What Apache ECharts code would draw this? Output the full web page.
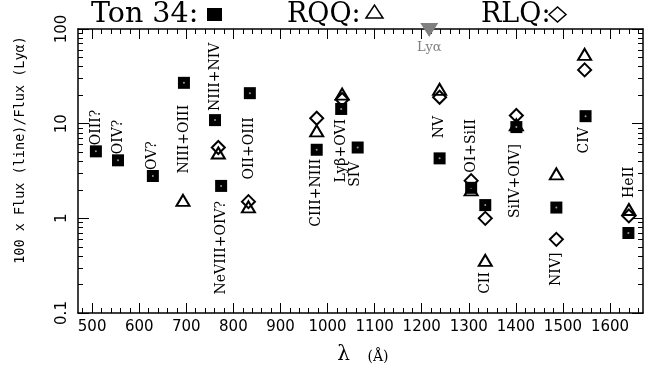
<!DOCTYPE html>
<html>
<head>
<meta charset="utf-8">
<script src="https://cdn.jsdelivr.net/npm/echarts@6/dist/echarts.min.js"></script>
<style>
html, body { margin: 0; padding: 0; background: #fff; }
#chart { width: 649px; height: 370px; }
</style>
</head>
<body>
<div id="chart"></div>
<script>
// emission lines, wavelength in Angstrom
const lineNames = ['OIII?', 'OIV?', 'OV?', 'NIII+OIII', 'NIII+NIV', 'NeVIII+OIV?', 'OII+OIII', 'CIII+NIII',
  'Lyβ+OVI', 'SIV', 'NV', 'OI+SiII', 'CII', 'SiIV+OIV]', 'NIV]', 'CIV', 'HeII']
const lineWave = [508, 555, 629, 695, 761, 774, 835, 977, 1029, 1064, 1238, 1305, 1335, 1401, 1486, 1548, 1639]
// Ton 34 ratios (100 x line / Lya)
const ton34 = [5.1, 4.1, 2.8, 27, 10.9, 2.2, 21, 5.3, 14.3, 5.6, 4.3, 2.1, 1.38, 9.2, 1.3, 12, 0.7]
// RQQ composite
const rqqWave = [693, 768, 832, 977, 1031, 1238, 1305, 1335, 1401, 1486, 1546, 1640]
const rqq = [1.55, 4.9, 1.32, 8.4, 20.5, 23, 2.0, 0.36, 9.7, 2.95, 54, 1.24]
// RLQ composite
const rlqWave = [768, 832, 977, 1031, 1238, 1305, 1335, 1401, 1486, 1546, 1640]
const rlq = [5.6, 1.5, 11.4, 18, 19, 2.5, 1.0, 12.2, 0.6, 37, 1.06]
// Lya marker on the top axis
const lyaWave = 1216
const lyaLevel = 100

// axes
const waveMin = 470
const waveMax = 1670
const xMajor = [500, 600, 700, 800, 900, 1000, 1100, 1200, 1300, 1400, 1500, 1600]
const xMinor = []
for (let v = 480; v <= 1660; v += 20) if (v % 100) xMinor.push(v)
const yMajor = [0.1, 1, 10, 100]
const yMajorLabels = ['0.1', '1', '10', '100']
const yMinor = []
;[0.1, 1, 10].forEach(d => { for (let k = 2; k <= 9; k++) yMinor.push(+(d * k).toPrecision(2)) })

// where each line name sits relative to its Ton 34 square
const labelSide = ['up', 'up', 'up', 'down', 'up', 'down', 'down', 'down', 'down', 'down', 'up', 'up', 'down', 'down', 'down', 'down', 'up']
const labelGap = [6, 6, 6, 22, 9, 15, 24, 9, 10, 14, 20, 15, 67, 17, 45, 11, 35]
const labelDx = [0, 0, -1, 0, 0, 0, 0, 0, 0, -2, 0, 0, 0, -1, 0, -1, 1]

const serif = '"DejaVu Serif"'
const sans = '"DejaVu Sans"'

const pairs = (xs, ys) => xs.map((x, i) => [x, ys[i]])

const axisX = (pos, line, ticks, len, labels) => ({
  type: 'value', gridIndex: 0, position: pos, min: waveMin, max: waveMax,
  axisLine: { show: line, onZero: false, lineStyle: { color: '#000', width: 1.5 } },
  axisTick: { show: true, inside: true, length: len, customValues: ticks, lineStyle: { color: '#000', width: 1 } },
  axisLabel: {
    show: labels, customValues: xMajor, margin: 7, color: '#000', fontFamily: sans, fontSize: 15,
    formatter: v => String(Math.round(v))
  },
  splitLine: { show: false }
})

const axisY = (pos, line, ticks, len, labels) => ({
  type: 'log', logBase: 10, gridIndex: 0, position: pos, min: 0.1, max: 100,
  axisLine: { show: line, onZero: false, lineStyle: { color: '#000', width: 1.5 } },
  axisTick: { show: true, inside: true, length: len, customValues: ticks, lineStyle: { color: '#000', width: 1 } },
  axisLabel: {
    show: labels, customValues: yMajor, rotate: 90, margin: 8, color: '#000', fontFamily: sans, fontSize: 15,
    formatter: v => yMajorLabels[yMajor.findIndex(m => Math.abs(m - v) < m * 1e-6)] || ''
  },
  splitLine: { show: false }
})

const chart = echarts.init(document.getElementById('chart'))

const option = {
  animation: false,
  backgroundColor: '#fff',
  grid: { left: 78, right: 6, top: 29, bottom: 57 },
  xAxis: [
    axisX('bottom', true, xMajor, 10, true),
    axisX('bottom', false, xMinor, 5, false),
    axisX('top', true, xMajor, 10, false),
    axisX('top', false, xMinor, 5, false)
  ],
  yAxis: [
    axisY('left', true, yMajor, 11, true),
    axisY('left', false, yMinor, 5, false),
    axisY('right', true, yMajor, 11, false),
    axisY('right', false, yMinor, 5, false)
  ],
  series: [
    {
      name: 'Ton 34', type: 'scatter', data: pairs(lineWave, ton34),
      symbol: 'rect', symbolSize: 12, itemStyle: { color: '#000', opacity: 1 }
    },
    {
      name: 'dot', type: 'scatter', data: pairs(lineWave, ton34), silent: true,
      symbol: 'circle', symbolSize: 2, itemStyle: { color: '#999', opacity: 1 }
    },
    {
      name: 'RQQ', type: 'scatter', data: pairs(rqqWave, rqq),
      symbol: 'triangle', symbolSize: [13, 11],
      itemStyle: { color: 'rgba(0,0,0,0)', borderColor: '#000', borderWidth: 2, opacity: 1 }
    },
    {
      name: 'RLQ', type: 'scatter', data: pairs(rlqWave, rlq),
      symbol: 'diamond', symbolSize: [13, 13],
      itemStyle: { color: 'rgba(0,0,0,0)', borderColor: '#000', borderWidth: 2, opacity: 1 }
    },
    {
      name: 'Lya', type: 'scatter', data: [[lyaWave, lyaLevel]], clip: false, z: 5,
      symbol: 'triangle', symbolRotate: 180, symbolSize: [18, 14], symbolOffset: [0, 1],
      itemStyle: { color: '#808080', opacity: 1 },
      label: {
        show: true, position: 'bottom', distance: 4, formatter: 'Lyα',
        color: '#808080', fontFamily: serif, fontSize: 13
      }
    }
  ]
}
chart.setOption(option)

// title row, axis names
const titleFont = '27px ' + serif
const head = [
  { type: 'text', x: 91, y: 15, style: { text: 'Ton 34:', font: '28.5px ' + serif, fill: '#000', verticalAlign: 'middle' } },
  { type: 'rect', shape: { x: 207, y: 8, width: 15, height: 13 }, style: { fill: '#000' } },
  { type: 'text', x: 287, y: 15, style: { text: 'RQQ:', font: titleFont, fill: '#000', verticalAlign: 'middle' } },
  { type: 'polygon', shape: { points: [[366, 18], [374.5, 5], [383, 18]] }, style: { fill: 'none', stroke: '#000', lineWidth: 1.5 } },
  { type: 'text', x: 481, y: 15, style: { text: 'RLQ:', font: titleFont, fill: '#000', verticalAlign: 'middle' } },
  { type: 'polygon', shape: { points: [[549, 14.5], [557.5, 7], [566, 14.5], [557.5, 22]] }, style: { fill: 'none', stroke: '#000', lineWidth: 1.5 } },
  { type: 'text', x: 343.5, y: 355, style: { text: 'λ', font: '20px ' + serif, fill: '#000', align: 'center', verticalAlign: 'middle' } },
  { type: 'text', x: 378, y: 357, style: { text: '(Å)', font: '14px ' + serif, fill: '#000', align: 'center', verticalAlign: 'middle' } },
  {
    type: 'text', x: 20, y: 150, rotation: Math.PI / 2,
    style: { text: '100 x Flux (line)/Flux (Lyα)', font: '13.5px "DejaVu Sans Mono"', fill: '#000', align: 'center', verticalAlign: 'middle' }
  }
]

// line names, rotated, next to the Ton 34 squares
const names = lineNames.map((name, i) => {
  const p = chart.convertToPixel({ seriesIndex: 0 }, [lineWave[i], ton34[i]])
  const up = labelSide[i] === 'up'
  return {
    type: 'text', x: p[0] + labelDx[i], y: up ? p[1] - labelGap[i] : p[1] + labelGap[i],
    rotation: Math.PI / 2,
    style: { text: name, font: '14px ' + serif, fill: '#000', align: up ? 'left' : 'right', verticalAlign: 'middle' }
  }
})

chart.setOption({ graphic: head.concat(names) })
</script>
</body>
</html>
